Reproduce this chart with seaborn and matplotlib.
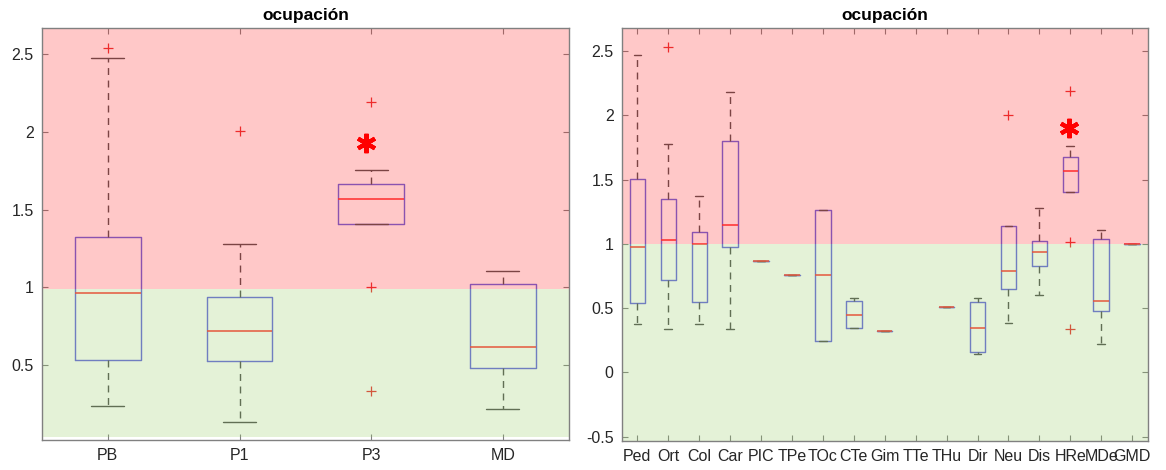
import numpy as np
import pandas as pd
import matplotlib
matplotlib.use("Agg")
import matplotlib.pyplot as plt
import seaborn as sns

# ---------------- data ----------------
left_cats = ["PB", "P1", "P3", "MD"]
left_wlo = [0.236, 0.135, 1.408, 0.217]
left_q1 = [0.532, 0.526, 1.408, 0.479]
left_med = [0.964, 0.720, 1.568, 0.618]
left_q3 = [1.326, 0.936, 1.665, 1.020]
left_whi = [2.474, 1.277, 1.757, 1.107]
left_out = {"PB": [2.54], "P1": [2.004], "P3": [2.188, 1.004, 0.335], "MD": []}
left_star = ("P3", 1.93)

right_cats = ["Ped", "Ort", "Col", "Car", "PIC", "TPe", "TOc", "CTe", "Gim",
              "TTe", "THu", "Dir", "Neu", "Dis", "HRe", "MDe", "GMD"]
# five-number summaries; None = no data, single value = one observation
right_wlo = [0.374, 0.340, 0.374, 0.340, 0.870, 0.759, 0.244, 0.348, 0.322,
             None, 0.511, 0.147, 0.382, 0.601, 1.406, 0.224, 1.000]
right_q1 = [0.537, 0.715, 0.547, 0.977, 0.870, 0.759, 0.244, 0.348, 0.322,
            None, 0.511, 0.162, 0.651, 0.826, 1.406, 0.477, 1.000]
right_med = [0.977, 1.028, 1.000, 1.144, 0.870, 0.759, 0.759, 0.444, 0.322,
             None, 0.511, 0.348, 0.787, 0.940, 1.569, 0.552, 1.000]
right_q3 = [1.504, 1.349, 1.090, 1.796, 0.870, 0.759, 1.266, 0.555, 0.322,
            None, 0.511, 0.547, 1.142, 1.026, 1.672, 1.039, 1.000]
right_whi = [2.469, 1.778, 1.369, 2.179, 0.870, 0.759, 1.266, 0.581, 0.322,
             None, 0.511, 0.581, 1.142, 1.279, 1.763, 1.111, 1.000]
right_single = ["PIC", "TPe", "Gim", "THu", "GMD"]
right_out = {"Ort": [2.533], "Neu": [2.003], "HRe": [2.189, 1.012, 0.340]}
right_star = ("HRe", 1.90)

left_ylim = (0.018, 2.665)
right_ylim = (-0.531, 2.676)
left_yticks = [0.5, 1, 1.5, 2, 2.5]
right_yticks = [-0.5, 0, 0.5, 1, 1.5, 2, 2.5]
left_green_bottom = 0.04
left_split = 0.99
right_split = 1.0
title = "ocupación"

# ---------------- style ----------------
sns.set_style("white")
plt.rcParams["font.family"] = ["Liberation Sans", "DejaVu Sans"]

BOX = "#6464e0"
WHISK = "#505050"
MED = "#ff3030"
OUTC = "#e83030"
RED_OVER = (1.0, 0.14, 0.14)
GREEN_OVER = (0.58, 0.80, 0.39)
OVER_ALPHA = 0.25
SPINE = "#808080"
TXT = "#262626"


def build_df(cats, wlo, q1, med, q3, whi, singles=()):
    rows = []
    for c, a, b, m, d, e in zip(cats, wlo, q1, med, q3, whi):
        if m is None:
            continue
        if c in singles:
            rows.append((c, m))
        else:
            for v in (a, b, m, d, e):
                rows.append((c, v))
    return pd.DataFrame(rows, columns=["cat", "val"])


def draw(ax, df, cats, outliers, star, ylim, yticks, green_bottom, split):
    sns.boxplot(data=df, x="cat", y="val", order=cats, ax=ax,
                whis=(0, 100), width=0.5, fill=False, color=BOX,
                linewidth=1.0, showfliers=False,
                medianprops=dict(color=MED, linewidth=1.1, zorder=2.05),
                whiskerprops=dict(color=WHISK, linestyle=(0, (5, 4)), linewidth=1.0),
                capprops=dict(color=WHISK, linewidth=1.0))
    for c, vals in outliers.items():
        if vals:
            xi = cats.index(c)
            ax.plot([xi] * len(vals), vals, linestyle="none", marker="+",
                    color=OUTC, markersize=7, markeredgewidth=0.9, zorder=2)
    ax.set_xlim(-0.5, len(cats) - 0.5)
    ax.set_ylim(*ylim)
    ax.axhspan(split, ylim[1], color=RED_OVER, alpha=OVER_ALPHA, lw=0, zorder=2.1)
    ax.axhspan(green_bottom, split, color=GREEN_OVER, alpha=OVER_ALPHA, lw=0, zorder=2.1)
    sc, sy = star
    ax.plot([cats.index(sc) - 0.04], [sy], linestyle="none", marker=(6, 2, 0),
            color="red", markersize=14, markeredgewidth=3.0, zorder=5)
    ax.set_yticks(yticks)
    ax.set_yticklabels([f"{t:g}" for t in yticks])
    ax.set_xlabel("")
    ax.set_ylabel("")
    ax.set_title(title, fontsize=12.5, fontweight="bold", color="black", pad=6)
    for s in ax.spines.values():
        s.set_visible(True)
        s.set_color(SPINE)
        s.set_linewidth(1.0)
    ax.tick_params(direction="in", length=4, width=0.8, color=SPINE,
                   top=True, right=True, bottom=True, left=True,
                   labelsize=11.5, labelcolor=TXT, pad=6)


fig = plt.figure(figsize=(11.66, 4.70), dpi=100)
ax1 = fig.add_axes([0.036, 0.0638, 0.4518, 0.876])
ax2 = fig.add_axes([0.5334, 0.0623, 0.4508, 0.8774])

df_left = build_df(left_cats, left_wlo, left_q1, left_med, left_q3, left_whi)
df_right = build_df(right_cats, right_wlo, right_q1, right_med, right_q3,
                    right_whi, right_single)

draw(ax1, df_left, left_cats, left_out, left_star, left_ylim, left_yticks,
     left_green_bottom, left_split)
draw(ax2, df_right, right_cats, right_out, right_star, right_ylim,
     right_yticks, right_ylim[0], right_split)

fig.savefig("out.png", dpi=100)
